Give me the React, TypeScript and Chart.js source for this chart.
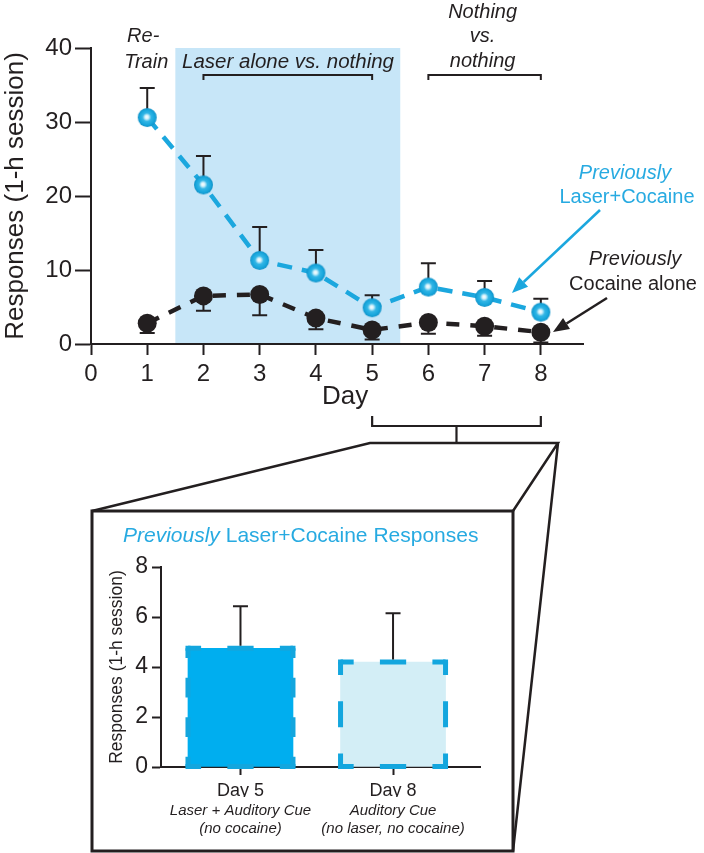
import React, { useEffect, useRef } from 'react';
import { Chart, registerables } from 'chart.js';

Chart.register(...registerables);

// ---------- data ----------
const dayTicks = [0, 1, 2, 3, 4, 5, 6, 7, 8];
const days = [1, 2, 3, 4, 5, 6, 7, 8];
const laserCocaineMean = [30.6, 21.5, 11.3, 9.6, 4.9, 7.7, 6.3, 4.3];
const laserCocaineSem = [4.0, 3.9, 4.5, 3.1, 1.7, 3.2, 2.2, 1.8];
const cocaineAloneMean = [2.8, 6.5, 6.7, 3.5, 1.9, 2.9, 2.4, 1.6];
const cocaineAloneSem = [1.3, 2.0, 2.8, 1.5, 1.3, 1.5, 1.3, 1.4];
const shadedDays = [1.5, 5.5];
const laserBracketDays = [2, 5];
const nothingBracketDays = [6, 8];
const zoomBracketDays = [5, 8];

const insetCategories = ['Day 5', 'Day 8'];
const insetSubLabels = [
  ['Laser + Auditory Cue', '(no cocaine)'],
  ['Auditory Cue', '(no laser, no cocaine)'],
];
const insetMean = [4.75, 4.2];
const insetSem = [1.68, 1.95];
const insetTicks = [1, 2];

// ---------- styles ----------
const FONT = '"Liberation Sans", Arial, Helvetica, sans-serif';
const INK = '#231f20';
const CYAN = '#1ba7de';
const CYAN_TEXT = '#27aae1';
const SHADE = '#c7e6f8';
const BAR_FILLS = ['#00aeef', '#d3eef6'];
const BAR_EDGE = '#13a6de';

function makeBall(r: number): HTMLCanvasElement {
  const c = document.createElement('canvas');
  const s = Math.ceil(r * 2) + 2;
  c.width = s;
  c.height = s;
  const g = c.getContext('2d')!;
  const cx = s / 2;
  const grad = g.createRadialGradient(cx - 0.6, cx - 0.6, 0, cx, cx, r);
  grad.addColorStop(0, '#ffffff');
  grad.addColorStop(0.2, '#d2f1fb');
  grad.addColorStop(0.45, '#33b6e6');
  grad.addColorStop(0.8, '#17a6dc');
  grad.addColorStop(1, '#1190c6');
  g.fillStyle = grad;
  g.beginPath();
  g.arc(cx, cx, r, 0, Math.PI * 2);
  g.fill();
  return c;
}

function drawArrow(ctx: CanvasRenderingContext2D, x1: number, y1: number, x2: number, y2: number, color: string) {
  const ang = Math.atan2(y2 - y1, x2 - x1);
  const head = 16;
  const hw = 6.5;
  const bx = x2 - head * Math.cos(ang);
  const by = y2 - head * Math.sin(ang);
  ctx.save();
  ctx.strokeStyle = color;
  ctx.fillStyle = color;
  ctx.lineWidth = 2.5;
  ctx.setLineDash([]);
  ctx.beginPath();
  ctx.moveTo(x1, y1);
  ctx.lineTo(bx, by);
  ctx.stroke();
  ctx.beginPath();
  ctx.moveTo(x2, y2);
  ctx.lineTo(bx + hw * Math.sin(ang), by - hw * Math.cos(ang));
  ctx.lineTo(bx - hw * Math.sin(ang), by + hw * Math.cos(ang));
  ctx.closePath();
  ctx.fill();
  ctx.restore();
}

function dashedSide(ctx: CanvasRenderingContext2D, x1: number, y1: number, x2: number, y2: number, period: number) {
  const L = Math.hypot(x2 - x1, y2 - y1);
  const k = Math.max(1, Math.round(L / period));
  const p = L / k;
  const d = p / 2;
  ctx.setLineDash([d, p - d]);
  ctx.lineDashOffset = d / 2;
  ctx.beginPath();
  ctx.moveTo(x1, y1);
  ctx.lineTo(x2, y2);
  ctx.stroke();
}

function text(ctx: CanvasRenderingContext2D, s: string, x: number, y: number, font: string, color: string, align: CanvasTextAlign = 'center') {
  ctx.font = font;
  ctx.fillStyle = color;
  ctx.textAlign = align;
  ctx.textBaseline = 'alphabetic';
  ctx.fillText(s, x, y);
}

const mainDecor = {
  id: 'mainDecor',
  beforeDraw(chart: any) {
    const { ctx, scales } = chart;
    const x = scales.x;
    const y = scales.y;
    ctx.save();
    ctx.fillStyle = SHADE;
    const x0 = x.getPixelForValue(shadedDays[0]);
    const x1 = x.getPixelForValue(shadedDays[1]);
    const yt = y.getPixelForValue(y.max);
    const yb = y.getPixelForValue(0);
    ctx.fillRect(x0, yt, x1 - x0, yb - yt);
    ctx.restore();
  },
  beforeDatasetsDraw(chart: any) {
    const { ctx, scales } = chart;
    const x = scales.x;
    const y = scales.y;
    ctx.save();
    ctx.strokeStyle = INK;
    ctx.lineWidth = 2;
    const series = [
      { mean: laserCocaineMean, sem: laserCocaineSem, dir: 1 },
      { mean: cocaineAloneMean, sem: cocaineAloneSem, dir: -1 },
    ];
    series.forEach((s) => {
      days.forEach((d, i) => {
        const px = x.getPixelForValue(d);
        const p0 = y.getPixelForValue(s.mean[i]);
        const p1 = y.getPixelForValue(s.mean[i] + s.dir * s.sem[i]);
        ctx.beginPath();
        ctx.moveTo(px, p0);
        ctx.lineTo(px, p1);
        ctx.moveTo(px - 7.5, p1);
        ctx.lineTo(px + 7.5, p1);
        ctx.stroke();
      });
    });
    ctx.restore();
  },
  afterDraw(chart: any) {
    const { ctx, scales } = chart;
    const x = scales.x;
    ctx.save();
    const it = `italic 20px ${FONT}`;
    const rg = `20px ${FONT}`;
    // top annotations
    text(ctx, 'Re-', x.getPixelForValue(1) - 4, 42, it, INK);
    text(ctx, 'Train', x.getPixelForValue(1) - 1, 68, it, INK);
    text(ctx, 'Laser alone vs. nothing', 288, 68, `italic 20.5px ${FONT}`, INK);
    const nx = (x.getPixelForValue(nothingBracketDays[0]) + x.getPixelForValue(nothingBracketDays[1])) / 2;
    text(ctx, 'Nothing', nx - 2, 18, it, INK);
    text(ctx, 'vs.', nx - 2, 42, it, INK);
    text(ctx, 'nothing', nx - 2, 67, it, INK);

    ctx.strokeStyle = INK;
    ctx.lineWidth = 2;
    ctx.setLineDash([]);
    const bracket = (a: number, b: number, yy: number) => {
      const xa = x.getPixelForValue(a);
      const xb = x.getPixelForValue(b);
      ctx.beginPath();
      ctx.moveTo(xa, yy + 5);
      ctx.lineTo(xa, yy);
      ctx.lineTo(xb, yy);
      ctx.lineTo(xb, yy + 5);
      ctx.stroke();
    };
    bracket(laserBracketDays[0], laserBracketDays[1], 75);
    bracket(nothingBracketDays[0], nothingBracketDays[1], 75);

    // legends
    text(ctx, 'Previously', 625, 179, it, CYAN_TEXT);
    text(ctx, 'Laser+Cocaine', 627, 203, rg, CYAN_TEXT);
    text(ctx, 'Previously', 635, 265, it, INK);
    text(ctx, 'Cocaine alone', 633, 290, rg, INK);
    drawArrow(ctx, 600, 210, 512, 293, CYAN);
    drawArrow(ctx, 607, 298, 553, 332, INK);

    // x title
    text(ctx, 'Day', x.getPixelForValue(4.5) + 1, 404, `26px ${FONT}`, INK);

    // zoom bracket below axis
    const za = x.getPixelForValue(zoomBracketDays[0]);
    const zb = x.getPixelForValue(zoomBracketDays[1]);
    const zm = (za + zb) / 2;
    ctx.lineWidth = 2.2;
    ctx.beginPath();
    ctx.moveTo(za, 416);
    ctx.lineTo(za, 426);
    ctx.lineTo(zb, 426);
    ctx.lineTo(zb, 416);
    ctx.moveTo(zm, 426);
    ctx.lineTo(zm, 443);
    ctx.stroke();

    // projection lines and box
    ctx.lineWidth = 2.5;
    ctx.lineJoin = 'miter';
    ctx.beginPath();
    ctx.moveTo(92, 511);
    ctx.lineTo(370, 443);
    ctx.lineTo(558, 443);
    ctx.lineTo(513, 511);
    ctx.moveTo(558, 443);
    ctx.lineTo(513, 851);
    ctx.stroke();
    ctx.lineWidth = 3;
    ctx.strokeRect(92, 511, 421, 340);
    ctx.restore();
  },
};

const insetDecor = {
  id: 'insetDecor',
  afterDatasetsDraw(chart: any) {
    const { ctx, scales } = chart;
    const y = scales.y;
    const meta = chart.getDatasetMeta(0);
    ctx.save();
    meta.data.forEach((bar: any, i: number) => {
      const { x, y: top, base, width } = bar.getProps(['x', 'y', 'base', 'width'], true);
      const l = x - width / 2;
      const r = x + width / 2;
      ctx.strokeStyle = BAR_EDGE;
      ctx.fillStyle = BAR_EDGE;
      ctx.lineWidth = 5;
      ctx.lineCap = 'butt';
      dashedSide(ctx, l, top, r, top, 45);
      dashedSide(ctx, r, top, r, base, 45);
      dashedSide(ctx, r, base, l, base, 45);
      dashedSide(ctx, l, base, l, top, 45);
      ctx.setLineDash([]);
      [[l, top], [r, top], [r, base], [l, base]].forEach(([cx, cy]) => ctx.fillRect(cx - 2.5, cy - 2.5, 5, 5));
      // error bar
      const pe = y.getPixelForValue(insetMean[i] + insetSem[i]);
      ctx.strokeStyle = INK;
      ctx.lineWidth = 2;
      ctx.beginPath();
      ctx.moveTo(x, top - 2.5);
      ctx.lineTo(x, pe);
      ctx.moveTo(x - 7.5, pe);
      ctx.lineTo(x + 7.5, pe);
      ctx.stroke();
    });
    ctx.restore();
  },
  afterDraw(chart: any) {
    const { ctx, scales, chartArea } = chart;
    const x = scales.x;
    ctx.save();
    // title
    ctx.textBaseline = 'alphabetic';
    ctx.textAlign = 'left';
    ctx.fillStyle = CYAN_TEXT;
    ctx.font = `italic 21px ${FONT}`;
    ctx.fillText('Previously', 123, 542);
    const w = ctx.measureText('Previously').width;
    ctx.font = `21px ${FONT}`;
    ctx.fillText(' Laser+Cocaine Responses', 123 + w, 542);
    // sublabels
    insetTicks.forEach((v, i) => {
      const px = x.getPixelForValue(v);
      text(ctx, insetSubLabels[i][0], px, chartArea.bottom + 48, `italic 15px ${FONT}`, INK);
      text(ctx, insetSubLabels[i][1], px, chartArea.bottom + 66, `italic 15px ${FONT}`, INK);
    });
    ctx.restore();
  },
};

export default function App() {
  const mainRef = useRef<HTMLCanvasElement>(null);
  const insetRef = useRef<HTMLCanvasElement>(null);

  useEffect(() => {
    const ball = makeBall(9.5);
    const main = new Chart(mainRef.current!, {
      type: 'line',
      data: {
        datasets: [
          {
            label: 'Previously Laser+Cocaine',
            data: days.map((d, i) => ({ x: d, y: laserCocaineMean[i] })),
            borderColor: CYAN,
            borderWidth: 4.5,
            borderDash: [15, 10],
            borderCapStyle: 'butt',
            pointStyle: ball as any,
            pointRadius: 9.5,
            pointHoverRadius: 9.5,
            tension: 0,
          },
          {
            label: 'Previously Cocaine alone',
            data: days.map((d, i) => ({ x: d, y: cocaineAloneMean[i] })),
            borderColor: INK,
            borderWidth: 4.5,
            borderDash: [13, 11],
            borderCapStyle: 'butt',
            pointStyle: 'circle',
            pointRadius: 9.5,
            pointBackgroundColor: INK,
            pointBorderColor: INK,
            pointBorderWidth: 0,
            tension: 0,
          },
        ],
      },
      options: {
        responsive: false,
        animation: false,
        layout: { padding: { left: 0, top: 48, right: 121, bottom: 469 } },
        plugins: { legend: { display: false }, tooltip: { enabled: false } },
        scales: {
          x: {
            type: 'linear',
            min: 0,
            max: 8.75,
            afterBuildTicks: (s: any) => {
              s.ticks = dayTicks.map((v) => ({ value: v }));
            },
            afterFit: (s: any) => {
              s.height = 40;
            },
            ticks: { font: { family: FONT, size: 24 }, color: INK, padding: 5, maxRotation: 0, autoSkip: false },
            grid: { display: true, drawOnChartArea: false, drawTicks: true, tickLength: 11, tickWidth: 2, tickColor: INK },
            border: { display: true, width: 2, color: INK },
          },
          y: {
            type: 'linear',
            min: 0,
            max: 40,
            afterFit: (s: any) => {
              s.width = 91;
            },
            ticks: { stepSize: 10, font: { family: FONT, size: 24 }, color: INK, padding: 3 },
            grid: { display: true, drawOnChartArea: false, drawTicks: true, tickLength: 16, tickWidth: 2, tickColor: INK },
            border: { display: true, width: 2, color: INK },
            title: {
              display: true,
              text: 'Responses (1-h session)',
              font: { family: FONT, size: 26 },
              color: INK,
              padding: { top: 0, bottom: 0 },
            },
          },
        },
      },
      plugins: [mainDecor],
    } as any);

    const inset = new Chart(insetRef.current!, {
      type: 'bar',
      data: {
        datasets: [
          {
            label: 'Previously Laser+Cocaine Responses',
            data: insetTicks.map((v, i) => ({ x: v, y: insetMean[i] })),
            backgroundColor: BAR_FILLS,
            borderWidth: 0,
            barThickness: 105,
          },
        ],
      },
      options: {
        responsive: false,
        animation: false,
        layout: { padding: { left: 92, top: 567, right: 224, bottom: 56 } },
        plugins: { legend: { display: false }, tooltip: { enabled: false } },
        scales: {
          x: {
            type: 'linear',
            min: 0.479,
            max: 2.57,
            offset: false,
            afterBuildTicks: (s: any) => {
              s.ticks = insetTicks.map((v) => ({ value: v }));
            },
            afterFit: (s: any) => {
              s.height = 30;
            },
            ticks: {
              font: { family: FONT, size: 18 },
              color: INK,
              padding: 5,
              maxRotation: 0,
              autoSkip: false,
              callback: (v: any) => insetCategories[Math.round(v) - 1] ?? '',
            },
            grid: { display: true, offset: false, drawOnChartArea: false, drawTicks: true, tickLength: 8, tickWidth: 2, tickColor: INK },
            border: { display: true, width: 2, color: INK },
          },
          y: {
            type: 'linear',
            min: 0,
            max: 8,
            afterFit: (s: any) => {
              s.width = 69;
            },
            ticks: { stepSize: 2, font: { family: FONT, size: 23 }, color: INK, padding: 4 },
            grid: { display: true, drawOnChartArea: false, drawTicks: true, tickLength: 9, tickWidth: 2, tickColor: INK },
            border: { display: true, width: 2, color: INK },
            title: {
              display: true,
              text: 'Responses (1-h session)',
              font: { family: FONT, size: 17.5 },
              color: INK,
              padding: { top: 14.5, bottom: 0 },
            },
          },
        },
      },
      plugins: [insetDecor],
    } as any);

    return () => {
      main.destroy();
      inset.destroy();
    };
  }, []);

  return (
    <div style={{ position: 'absolute', left: 0, top: 0, width: 704, height: 853, background: '#ffffff' }}>
      <canvas ref={mainRef} width={704} height={853} style={{ position: 'absolute', left: 0, top: 0 }} />
      <canvas ref={insetRef} width={704} height={853} style={{ position: 'absolute', left: 0, top: 0 }} />
    </div>
  );
}
